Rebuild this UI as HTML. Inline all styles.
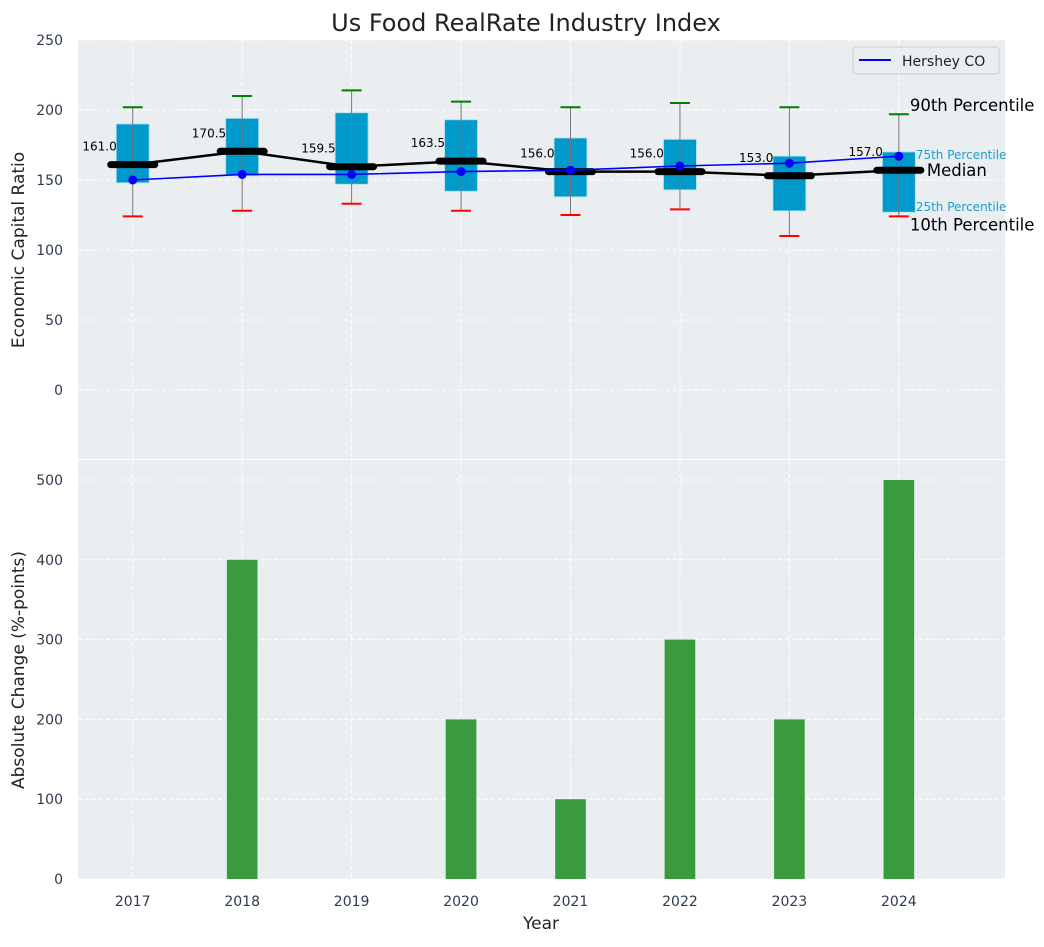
<!DOCTYPE html>
<html><head><meta charset="utf-8">
<style>
body{margin:0;background:#fff;font-family:"Liberation Sans","DejaVu Sans",sans-serif;}
svg text{font-family:"DejaVu Sans","Liberation Sans",sans-serif;}
</style></head>
<body>
<svg id="c" width="1044" height="942" xmlns="http://www.w3.org/2000/svg"></svg>
<script>
const years=[2017,2018,2019,2020,2021,2022,2023,2024];
const p10=[124,128,133,128,125,129,110,124];
const p25=[148,153,147,142,138,143,128,127];
const medians=[161,170.5,159.5,163.5,156,156,153,157];
const p75=[190,194,198,193,180,179,167,170];
const p90=[202,210,214,206,202,205,202,197];
const hershey=[150,154,154,156,157,160,162,167];
const changes=[0,400,0,200,100,300,200,500];
const topTicks=[0,50,100,150,200,250];
const botTicks=[0,100,200,300,400,500];

const NS="http://www.w3.org/2000/svg";
const svg=document.getElementById('c');
function el(t,a,p){const e=document.createElementNS(NS,t);for(const k in a)e.setAttribute(k,a[k]);(p||svg).appendChild(e);return e;}
const L=78,R=1005;
const X=v=>L+(v-2016.5)/(8.47)*(R-L);
const T0=40,T1=459,B0=460,B1=879;
const YT=v=>T0+(250-v)/(250+49.3)*(T1-T0);
const YB=v=>B1-v/525*(B1-B0);

let r=el('rect',{x:L,y:T0,width:R-L,height:T1-T0,fill:'#eaeef0'});

r=el('rect',{x:L,y:B0,width:R-L,height:B1-B0,fill:'#eaeef0'});


years.forEach(y=>{
 el('line',{x1:X(y),x2:X(y),y1:T0,y2:T1,stroke:'#fff','stroke-dasharray':'4,3','stroke-width':1});
 el('line',{x1:X(y),x2:X(y),y1:B0,y2:B1,stroke:'#fff','stroke-dasharray':'4,3','stroke-width':1});
 let t=el('text',{x:X(y),y:906,'font-size':14,fill:'#2e3b4e','text-anchor':'middle'});t.textContent=y;
 
});
topTicks.forEach(v=>{
 el('line',{x1:L,x2:R,y1:YT(v),y2:YT(v),stroke:'#fff','stroke-dasharray':'4,3'});
 let t=el('text',{x:63,y:YT(v)+5,'font-size':14,fill:'#2e3b4e','text-anchor':'end'});t.textContent=v;
 
});
botTicks.forEach(v=>{
 el('line',{x1:L,x2:R,y1:YB(v),y2:YB(v),stroke:'#fff','stroke-dasharray':'4,3'});
 let t=el('text',{x:63,y:YB(v)+5,'font-size':14,fill:'#2e3b4e','text-anchor':'end'});t.textContent=v;
 
});

const dx=X(2018)-X(2017);
years.forEach((y,i)=>{
 const cx=X(y);
 let b=el('rect',{x:cx-0.15*dx,y:YT(p75[i]),width:0.3*dx,height:YT(p25[i])-YT(p75[i]),fill:'#0099cc',stroke:'#a8dcec','stroke-width':0.8});
 
 el('line',{x1:cx,x2:cx,y1:YT(p90[i]),y2:YT(p10[i]),stroke:'#777','stroke-width':1});
 let w=el('line',{x1:cx-10,x2:cx+10,y1:YT(p90[i]),y2:YT(p90[i]),stroke:'green','stroke-width':2});
 
 w=el('line',{x1:cx-10,x2:cx+10,y1:YT(p10[i]),y2:YT(p10[i]),stroke:'red','stroke-width':2});
 
});
let mp=el('polyline',{points:years.map((y,i)=>X(y)+','+YT(medians[i])).join(' '),fill:'none',stroke:'#000','stroke-width':2.5});

years.forEach((y,i)=>{
 let m=el('line',{x1:X(y)-22,x2:X(y)+22,y1:YT(medians[i]),y2:YT(medians[i]),stroke:'#000','stroke-width':7,'stroke-linecap':'round'});
 
 let t=el('text',{x:X(y)-16,y:YT(medians[i]+10),'font-size':12,fill:'#000','text-anchor':'end'});t.textContent=medians[i].toFixed(1);
 
});
let hp=el('polyline',{points:years.map((y,i)=>X(y)+','+YT(hershey[i])).join(' '),fill:'none',stroke:'blue','stroke-width':1.6});

years.forEach((y,i)=>{
 let c=el('circle',{cx:X(y),cy:YT(hershey[i]),r:4.5,fill:'blue'});
 
});
const ax=X(2024);
[['90th Percentile',ax+11,YT(p90[7])-3,16.5,'#000'],['75th Percentile',ax+17,YT(p75[7])+7,12,'#1a9fd0'],
 ['Median',ax+28,YT(medians[7])+6,16.5,'#000'],['25th Percentile',ax+17,YT(p25[7])-1,12,'#1a9fd0'],
 ['10th Percentile',ax+11,YT(p10[7])+14,16.5,'#000']].forEach(a=>{
 let t=el('text',{x:a[1],y:a[2],'font-size':a[3],fill:a[4]});t.textContent=a[0];
 
});
let lg=el('g',{});
el('rect',{x:853,y:47,width:146,height:27,rx:3,fill:'#eaeef0',stroke:'#ccc'},lg);
el('line',{x1:859,x2:891,y1:60,y2:60,stroke:'blue','stroke-width':2},lg);
let lt=el('text',{x:902,y:66,'font-size':14,fill:'#222'},lg);lt.textContent='Hershey CO';
years.forEach((y,i)=>{
 if(!changes[i])return;
 let b=el('rect',{x:X(y)-0.14*dx,y:YB(changes[i]),width:0.28*dx,height:YB(0)-YB(changes[i]),fill:'#3a9b3e'});
 
});
let t=el('text',{x:526,y:31,'font-size':24,fill:'#222','text-anchor':'middle'});t.textContent='Us Food RealRate Industry Index';

t=el('text',{x:541,y:929,'font-size':17,fill:'#222','text-anchor':'middle'});t.textContent='Year';

t=el('text',{x:0,y:0,'font-size':17,fill:'#222','text-anchor':'middle',transform:'translate(24,250) rotate(-90)'});t.textContent='Economic Capital Ratio';

t=el('text',{x:0,y:0,'font-size':17,fill:'#222','text-anchor':'middle',transform:'translate(24,670) rotate(-90)'});t.textContent='Absolute Change (%-points)';

</script>
</body></html>
